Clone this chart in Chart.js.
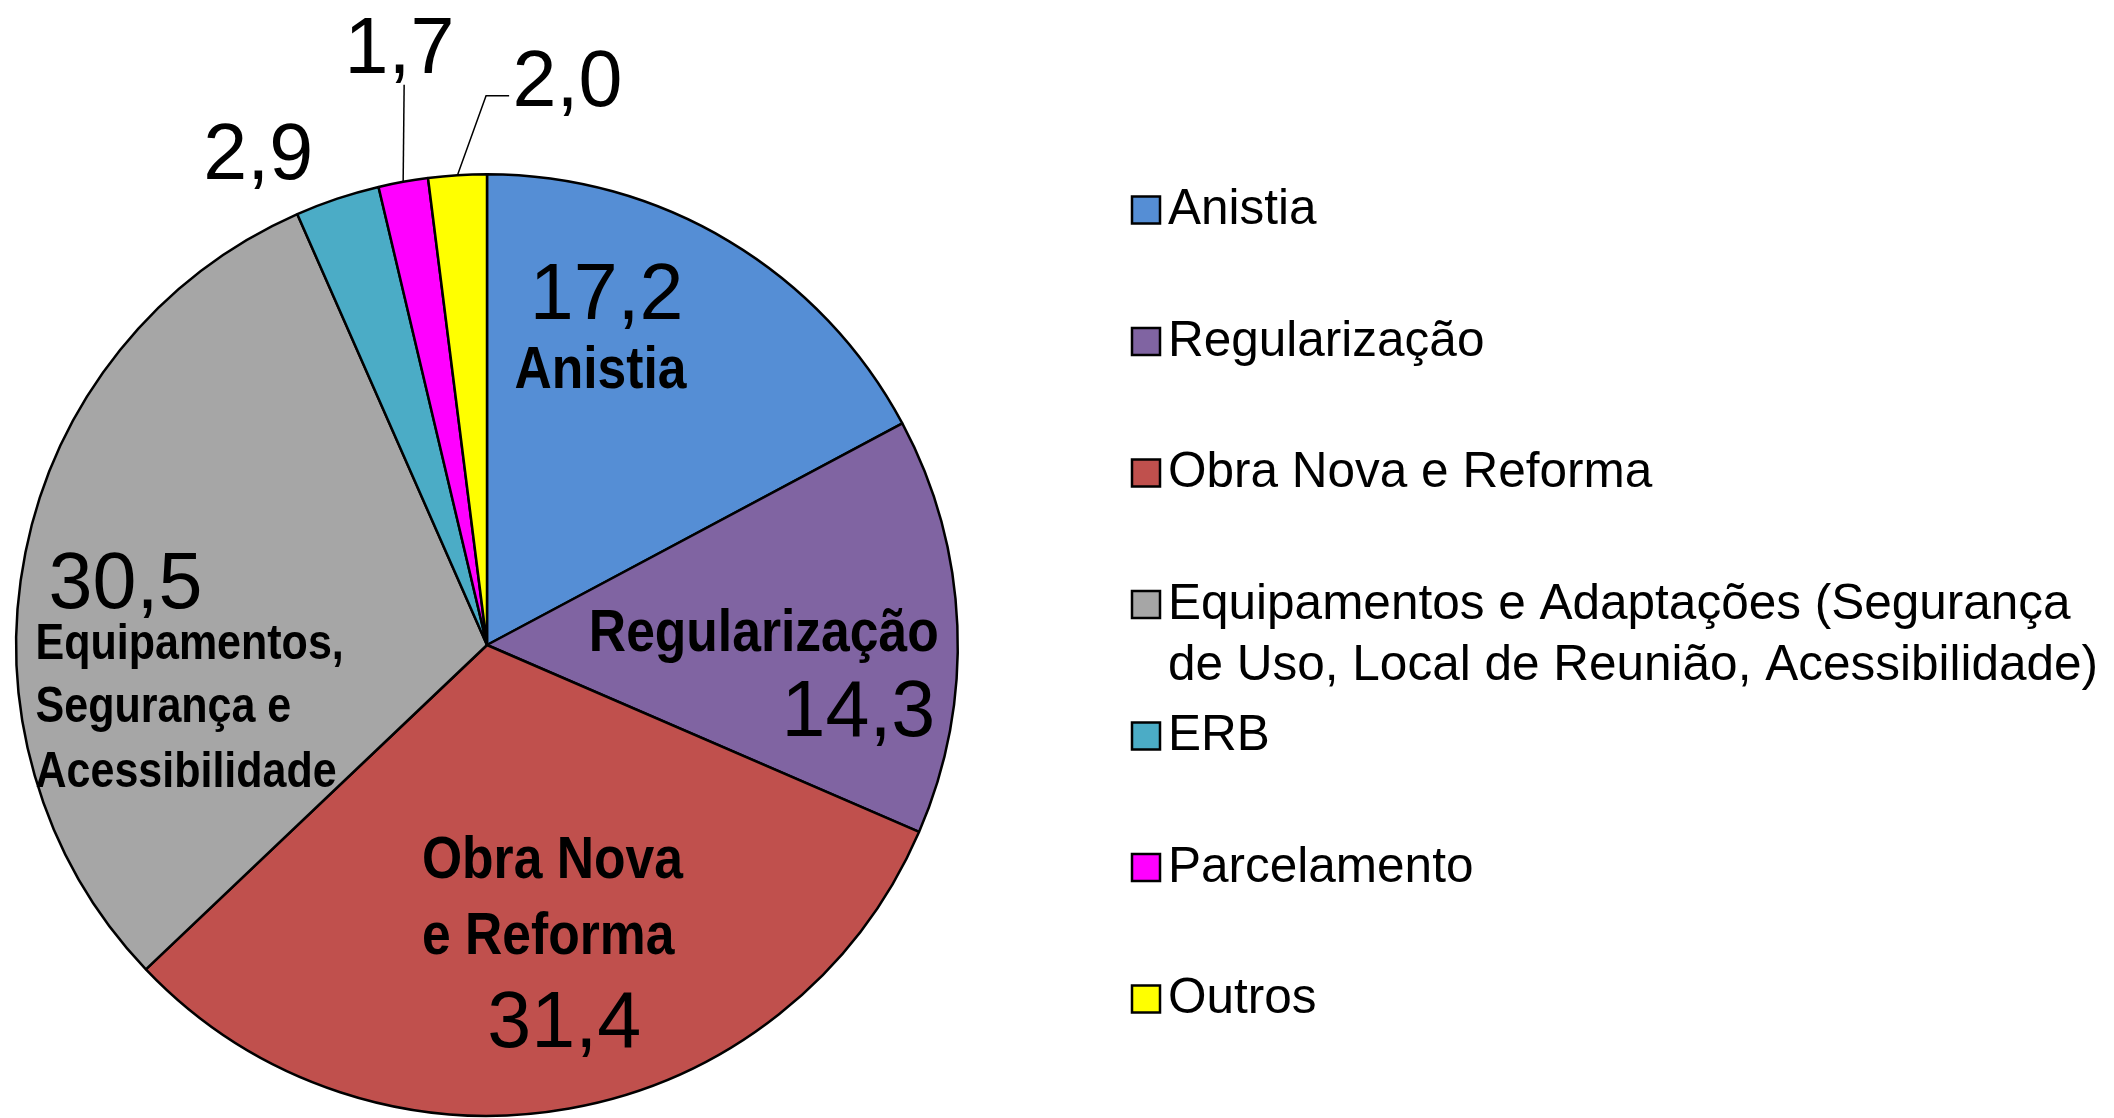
<!DOCTYPE html>
<html>
<head>
<meta charset="utf-8">
<script src="https://cdn.jsdelivr.net/npm/chart.js@4.4.1/dist/chart.umd.min.js"></script>
<style>
  html, body { margin: 0; padding: 0; background: #ffffff; }
  canvas { display: block; }
</style>
</head>
<body>
<canvas id="c" width="2114" height="1118"></canvas>
<script>
// ---- Data ----
const categories = [
  "Anistia",
  "Regularização",
  "Obra Nova e Reforma",
  "Equipamentos e Adaptações (Segurança de Uso, Local de Reunião, Acessibilidade)",
  "ERB",
  "Parcelamento",
  "Outros"
];
const values = [17.2, 14.3, 31.4, 30.5, 2.9, 1.7, 2.0];
const colors = ["#558ED5", "#8064A2", "#C0504D", "#A6A6A6", "#4BACC6", "#FF00FF", "#FFFF00"];
// legend text lines (legend wraps the long category)
const legendLines = [
  ["Anistia"],
  ["Regularização"],
  ["Obra Nova e Reforma"],
  ["Equipamentos e Adaptações (Segurança", "de Uso, Local de Reunião, Acessibilidade)"],
  ["ERB"],
  ["Parcelamento"],
  ["Outros"]
];
// in-slice bold names
const sliceNames = [
  ["Anistia"],
  ["Regularização"],
  ["Obra Nova", "e Reforma"],
  ["Equipamentos,", "Segurança e", "Acessibilidade"],
  [], [], []
];

// ---- Label placement (relative to pie center, in units of radius) ----
const numPos = [
  [0.254, -0.692], [0.789, 0.194], [0.164, 0.855], [-0.768, -0.079],
  [-0.486, -0.989], [-0.186, -1.215], [0.171, -1.145]
];
const namePos = [
  [[0.241, -0.546, 60, "center"]],
  [[0.588, 0.013, 60, "center"]],
  [[0.139, 0.495, 60, "center"], [0.130, 0.657, 60, "center"]],
  [[-0.959, 0.030, 50, "left"], [-0.959, 0.164, 50, "left"], [-0.959, 0.301, 50, "left"]],
  [], [], []
];
// leader lines for small slices
const leaders = {
  5: [[-0.176, -1.19]],
  6: [[-0.002, -1.167], [0.047, -1.167]]
};

const FONT = "'Liberation Sans', Arial, sans-serif";

const overlay = {
  id: "overlay",
  afterDraw(chart) {
    const ctx = chart.ctx;
    const meta = chart.getDatasetMeta(0);
    const arc0 = meta.data[0];
    const cx = arc0.x, cy = arc0.y, r = arc0.outerRadius;
    ctx.save();
    ctx.fillStyle = "#000";
    ctx.strokeStyle = "#000";

    // leader lines
    ctx.lineWidth = 1.5;
    Object.keys(leaders).forEach(k => {
      const a = meta.data[k];
      const mid = (a.startAngle + a.endAngle) / 2;
      ctx.beginPath();
      ctx.moveTo(cx + Math.cos(mid) * r, cy + Math.sin(mid) * r);
      leaders[k].forEach(p => ctx.lineTo(cx + p[0] * r, cy + p[1] * r));
      ctx.stroke();
    });

    // value labels
    ctx.textBaseline = "alphabetic";
    ctx.textAlign = "center";
    ctx.font = "79px " + FONT;
    values.forEach((v, i) => {
      const p = numPos[i];
      ctx.fillText(v.toFixed(1).replace(".", ","), cx + p[0] * r, cy + p[1] * r);
    });

    // slice names (condensed bold)
    sliceNames.forEach((lines, i) => {
      lines.forEach((t, j) => {
        const p = namePos[i][j];
        ctx.save();
        ctx.translate(cx + p[0] * r, cy + p[1] * r);
        ctx.scale(0.86, 1);
        ctx.font = "bold " + p[2] + "px " + FONT;
        ctx.textAlign = p[3];
        ctx.fillText(t, 0, 0);
        ctx.restore();
      });
    });

    // legend
    const lx = 1132, boxW = 28, boxH = 27, tx = 1168;
    const top0 = 207, step = 131.5, lineH = 61;
    ctx.font = "49.5px " + FONT;
    ctx.textAlign = "left";
    ctx.textBaseline = "alphabetic";
    legendLines.forEach((lines, i) => {
      const mid = top0 + i * step;
      ctx.fillStyle = colors[i];
      ctx.fillRect(lx, mid - boxH / 2 + 3, boxW, boxH);
      ctx.lineWidth = 2.5;
      ctx.strokeStyle = "#000";
      ctx.strokeRect(lx, mid - boxH / 2 + 3, boxW, boxH);
      ctx.fillStyle = "#000";
      lines.forEach((t, j) => {
        ctx.fillText(t, tx, mid + 17 + j * lineH);
      });
    });
    ctx.restore();
  }
};

new Chart(document.getElementById("c"), {
  type: "pie",
  data: {
    labels: categories,
    datasets: [{
      data: values,
      backgroundColor: colors,
      borderColor: "#000000",
      borderWidth: 2.5
    }]
  },
  options: {
    responsive: false,
    animation: false,
    events: [],
    layout: { padding: { top: 173, bottom: 1, left: 15, right: 1155 } },
    plugins: {
      legend: { display: false },
      tooltip: { enabled: false },
      title: { display: false }
    }
  },
  plugins: [overlay]
});
</script>
</body>
</html>
